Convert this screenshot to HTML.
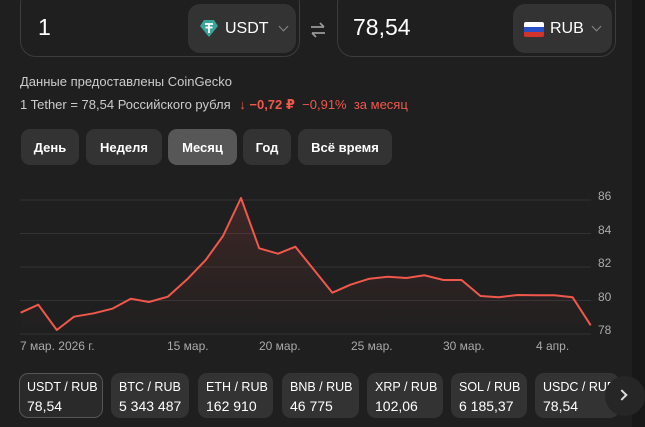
<!DOCTYPE html>
<html><head><meta charset="utf-8"><style>
*{box-sizing:border-box;margin:0;padding:0}
body{width:645px;height:427px;overflow:hidden;background:#1f1f1f;font-family:"Liberation Sans","DejaVu Sans",sans-serif;color:#fff;position:relative}
.strip{position:absolute;left:632px;top:0;width:13px;height:427px;background:#181818}
.box{position:absolute;top:-12px;height:69px;border:1px solid #3c3c3c;border-radius:16px;background:#1f1f1f}
.cur{position:absolute;top:4px;height:49px;background:#333;border-radius:12px;font-size:16px;display:flex;align-items:center}
.num{position:absolute;top:14px;font-size:23px}
.chev{position:absolute;width:7px;height:7px;border-right:1.6px solid #888;border-bottom:1.6px solid #888;transform:rotate(45deg)}
.t{position:absolute;font-size:13px;color:#ccc;white-space:nowrap}
.btn{position:absolute;top:129px;height:36px;background:#333;border-radius:9px;font-size:13px;font-weight:bold;display:flex;align-items:center;justify-content:center}
.card{position:absolute;top:373px;height:45px;background:#333;border-radius:9px;padding:5px 8px;font-size:12.5px;line-height:19px;white-space:nowrap;overflow:hidden}
.card b{font-weight:normal;font-size:14px}
</style></head><body>
<div class="strip"></div>
<div class="box" style="left:20px;width:280px"></div>
<div class="num" style="left:38px">1</div>
<div class="cur" style="left:188px;width:108px">
<svg style="position:absolute;left:12px;top:16px" width="18" height="17" viewBox="0 0 18 17"><path d="M4 0h10l4 6-9 11L0 6z" fill="#3aa39a"/><path d="M5 4h8M9 4v9M5.5 7.5h7" stroke="#fff" stroke-width="1.8" fill="none"/></svg>
<span style="position:absolute;left:37px">USDT</span><div class="chev" style="left:92px;top:19px"></div></div>
<svg style="position:absolute;left:309px;top:21px" width="18" height="18" viewBox="0 0 18 18"><path d="M2 6h13M11 2l4 4M16 12H3M7 16l-4-4" stroke="#999" stroke-width="1.8" fill="none"/></svg>
<div class="box" style="left:337px;width:279px"></div>
<div class="num" style="left:353px">78,54</div>
<div class="cur" style="left:513px;width:99px">
<div style="position:absolute;left:11px;top:18px;width:20px;height:15px;overflow:hidden;border-radius:2px"><div style="height:5px;background:#fff"></div><div style="height:5px;background:#2a4fc9"></div><div style="height:5px;background:#d0342c"></div></div>
<span style="position:absolute;left:37px">RUB</span><div class="chev" style="left:80px;top:19px"></div></div>
<div class="t" style="left:20px;top:74px">Данные предоставлены CoinGecko</div>
<div class="t" style="left:20px;top:97px">1 Tether = 78,54 Российского рубля <span style="color:#f0584c;margin-left:5px">↓ <b>−0,72 ₽</b> &nbsp;−0,91% &nbsp;за месяц</span></div>
<div class="btn" style="left:21px;width:58px">День</div>
<div class="btn" style="left:86px;width:76px">Неделя</div>
<div class="btn" style="left:168px;width:69px;background:#575757">Месяц</div>
<div class="btn" style="left:243px;width:48px">Год</div>
<div class="btn" style="left:298px;width:94px">Всё время</div>
<svg style="position:absolute;left:0;top:180px" width="645" height="180" viewBox="0 180 645 180">
<defs><linearGradient id="g" x1="0" y1="0" x2="0" y2="1"><stop offset="0" stop-color="#f0584c" stop-opacity=".15"/><stop offset="1" stop-color="#f0584c" stop-opacity="0"/></linearGradient></defs>
<g stroke="#333" stroke-width="1"><line x1="20" x2="591" y1="200" y2="200"/><line x1="20" x2="591" y1="233.5" y2="233.5"/><line x1="20" x2="591" y1="267" y2="267"/><line x1="20" x2="591" y1="300.5" y2="300.5"/><line x1="20" x2="591" y1="334" y2="334"/></g>
<g fill="#aaa" font-size="12" font-family="Liberation Sans,sans-serif"><text x="598" y="200">86</text><text x="598" y="234">84</text><text x="598" y="267">82</text><text x="598" y="301">80</text><text x="598" y="334">78</text>
<text x="20" y="350">7 мар. 2026 г.</text><text x="167" y="350">15 мар.</text><text x="259" y="350">20 мар.</text><text x="351" y="350">25 мар.</text><text x="443" y="350">30 мар.</text><text x="536" y="350">4 апр.</text></g>
<path d="M20.6 312.7L38.3 304.7L56.8 330L74 316.7L93.8 313.3L112.3 308.7L130.8 298.7L148.9 302L167.8 296.7L187.2 279.3L205.7 260L223 236L241 198L259.2 248.3L278 253.7L295.4 246.7L313.5 269.3L332.4 292.7L350.5 284.7L369.4 278.7L387.9 276.7L406.4 278L424.5 275.3L443.4 280L461.5 280L480.5 296L498.6 297.3L517.5 295L535.6 295.3L554.5 295.3L572.6 297.3L590.7 325.3L590.7 334L20.6 334Z" fill="url(#g)"/>
<path d="M20.6 312.7L38.3 304.7L56.8 330L74 316.7L93.8 313.3L112.3 308.7L130.8 298.7L148.9 302L167.8 296.7L187.2 279.3L205.7 260L223 236L241 198L259.2 248.3L278 253.7L295.4 246.7L313.5 269.3L332.4 292.7L350.5 284.7L369.4 278.7L387.9 276.7L406.4 278L424.5 275.3L443.4 280L461.5 280L480.5 296L498.6 297.3L517.5 295L535.6 295.3L554.5 295.3L572.6 297.3L590.7 325.3" fill="none" stroke="#f0584c" stroke-width="2" stroke-linejoin="round"/>
</svg>
<div class="card" style="left:19px;width:84px;background:#2a2a2a;border:1px solid #555;padding:4px 7px">USDT / RUB<br><b>78,54</b></div>
<div class="card" style="left:111px;width:78px">BTC / RUB<br><b>5 343 487</b></div>
<div class="card" style="left:198px;width:75px">ETH / RUB<br><b>162 910</b></div>
<div class="card" style="left:282px;width:77px">BNB / RUB<br><b>46 775</b></div>
<div class="card" style="left:367px;width:76px">XRP / RUB<br><b>102,06</b></div>
<div class="card" style="left:451px;width:76px">SOL / RUB<br><b>6 185,37</b></div>
<div class="card" style="left:535px;width:84px">USDC / RUB<br><b>78,54</b></div>
<div style="position:absolute;left:605px;top:376px;width:40px;height:40px;border-radius:50%;background:#262626"></div>
<div style="position:absolute;left:618px;top:391px;width:8px;height:8px;border-right:2px solid #ddd;border-top:2px solid #ddd;transform:rotate(45deg)"></div>
</body></html>
